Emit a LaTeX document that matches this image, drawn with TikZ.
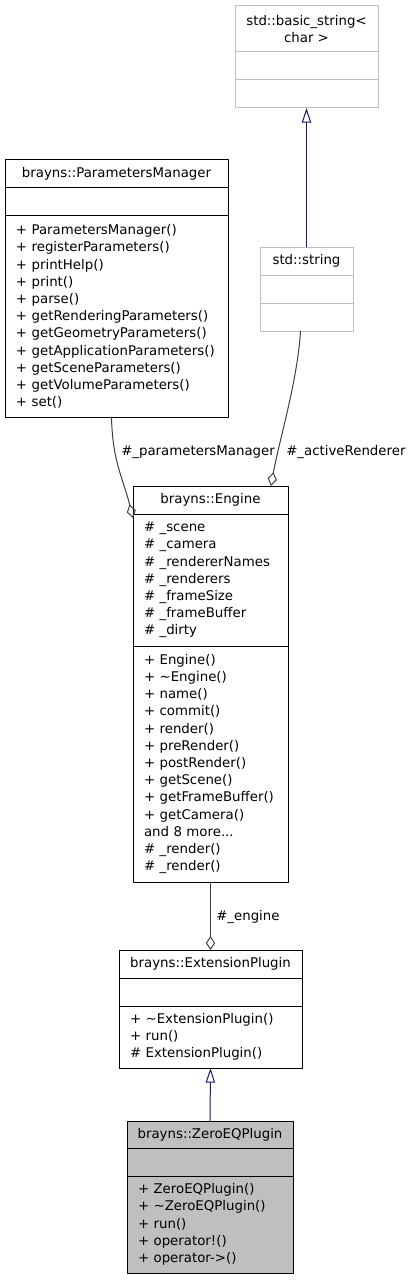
\documentclass[tikz,border=0pt]{standalone}
\usepackage{fontspec}
\setmainfont{DejaVu Sans}
\usepackage{tikz}
\usetikzlibrary{arrows.meta,positioning}
\usepackage{xcolor}
\definecolor{stdgray}{HTML}{BFBFBF}
\definecolor{edgegray}{HTML}{404040}
\definecolor{baseblue}{HTML}{191970}
\newcommand{\umlfont}{\fontsize{10pt}{12.9pt}\selectfont}
\tikzset{
  uml part/.style={draw,rectangle,inner sep=0pt,outer sep=0pt,line width=.75pt,font=\umlfont},
  uml title/.style={uml part,align=center,minimum height=21pt},
  uml empty/.style={uml part,minimum height=21pt},
  uml members/.style={uml part,align=left,inner xsep=8.25pt},
  std class/.style={draw=stdgray},
  has a/.style={draw=edgegray,line width=.75pt,-{Diamond[open,length=10.5pt,width=7pt]}},
  is a/.style={draw=baseblue,line width=.75pt,-{Triangle[open,length=11pt,width=7pt]}},
  link label/.style={font=\umlfont,inner sep=0pt,anchor=base west}
}

\begin{document}
\begin{tikzpicture}[x=.75pt,y=-.75pt,line cap=round,line join=round]
  \useasboundingbox (0,0) rectangle (415,1280);

  % std::basic_string<char>
  \node[uml title,std class,minimum width=107.25pt,minimum height=34.5pt,anchor=north west] (bstrtitle) at (235,6) {std::basic\_string<\\char >};
  \node[uml empty,std class,minimum width=107.25pt,below=0pt of bstrtitle] (bstrattr) {};
  \node[uml empty,std class,minimum width=107.25pt,below=0pt of bstrattr] (bstrops) {};

  % std::string
  \node[uml title,std class,minimum width=69.75pt,anchor=north west] (strtitle) at (260,247) {std::string};
  \node[uml empty,std class,minimum width=69.75pt,below=0pt of strtitle] (strattr) {};
  \node[uml empty,std class,minimum width=69.75pt,below=0pt of strattr] (strops) {};

  % brayns::ParametersManager
  \node[uml title,minimum width=167.25pt,anchor=north west] (pmtitle) at (5,160) {brayns::ParametersManager};
  \node[uml empty,minimum width=167.25pt,below=0pt of pmtitle] (pmattr) {};
  \node[uml members,text width=150.75pt,minimum height=150.75pt,below=0pt of pmattr] (pmops) {%
    + ParametersManager()\\
    + registerParameters()\\
    + printHelp()\\
    + print()\\
    + parse()\\
    + getRenderingParameters()\\
    + getGeometryParameters()\\
    + getApplicationParameters()\\
    + getSceneParameters()\\
    + getVolumeParameters()\\
    + set()};

  % brayns::Engine
  \node[uml title,minimum width=116.25pt,anchor=north west] (engtitle) at (133,486) {brayns::Engine};
  \node[uml members,text width=99.75pt,minimum height=99pt,below=0pt of engtitle] (engattr) {%
    \# \_scene\\
    \# \_camera\\
    \# \_rendererNames\\
    \# \_renderers\\
    \# \_frameSize\\
    \# \_frameBuffer\\
    \# \_dirty};
  \node[uml members,text width=99.75pt,minimum height=177pt,below=0pt of engattr] (engops) {%
    + Engine()\\
    + \textasciitilde Engine()\\
    + name()\\
    + commit()\\
    + render()\\
    + preRender()\\
    + postRender()\\
    + getScene()\\
    + getFrameBuffer()\\
    + getCamera()\\
    and 8 more...\\
    \# \_render()\\
    \# \_render()};

  % brayns::ExtensionPlugin
  \node[uml title,minimum width=137.25pt,anchor=north west] (exttitle) at (119,950) {brayns::ExtensionPlugin};
  \node[uml empty,minimum width=137.25pt,below=0pt of exttitle] (extattr) {};
  \node[uml members,text width=120.75pt,minimum height=46.5pt,below=0pt of extattr] (extops) {%
    + \textasciitilde ExtensionPlugin()\\
    + run()\\
    \# ExtensionPlugin()};

  % brayns::ZeroEQPlugin
  \node[uml title,fill=stdgray,minimum width=124.5pt,minimum height=20.25pt,anchor=north west] (zeqtitle) at (127,1121) {brayns::ZeroEQPlugin};
  \node[uml empty,fill=stdgray,minimum width=124.5pt,below=0pt of zeqtitle] (zeqattr) {};
  \node[uml members,fill=stdgray,text width=108pt,minimum height=72.75pt,below=0pt of zeqattr] (zeqops) {%
    + ZeroEQPlugin()\\
    + \textasciitilde ZeroEQPlugin()\\
    + run()\\
    + operator!()\\
    + operator->()};

  % links
  \draw[is a] (strtitle.north) -- (bstrops.south);
  \draw[has a] ([xshift=-4.5pt]strops.south) .. controls +(-3,50) and +(8,-45) .. ([xshift=-12.75pt]engtitle.north east);
  \draw[has a] ([xshift=-3.75pt]pmops.south) .. controls +(1,45) and +(-10,-40) .. ([yshift=-3pt]engattr.north west);
  \draw[has a] (engops.south) -- (exttitle.north);
  \draw[is a] (zeqtitle.north) -- (extops.south);

  \node[link label] (pmlabel) at (121,455) {\#\_parametersManager};
  \node[link label] (arlabel) at (286,455) {\#\_activeRenderer};
  \node[link label] (englabel) at (216,920) {\#\_engine};
\end{tikzpicture}
\end{document}
